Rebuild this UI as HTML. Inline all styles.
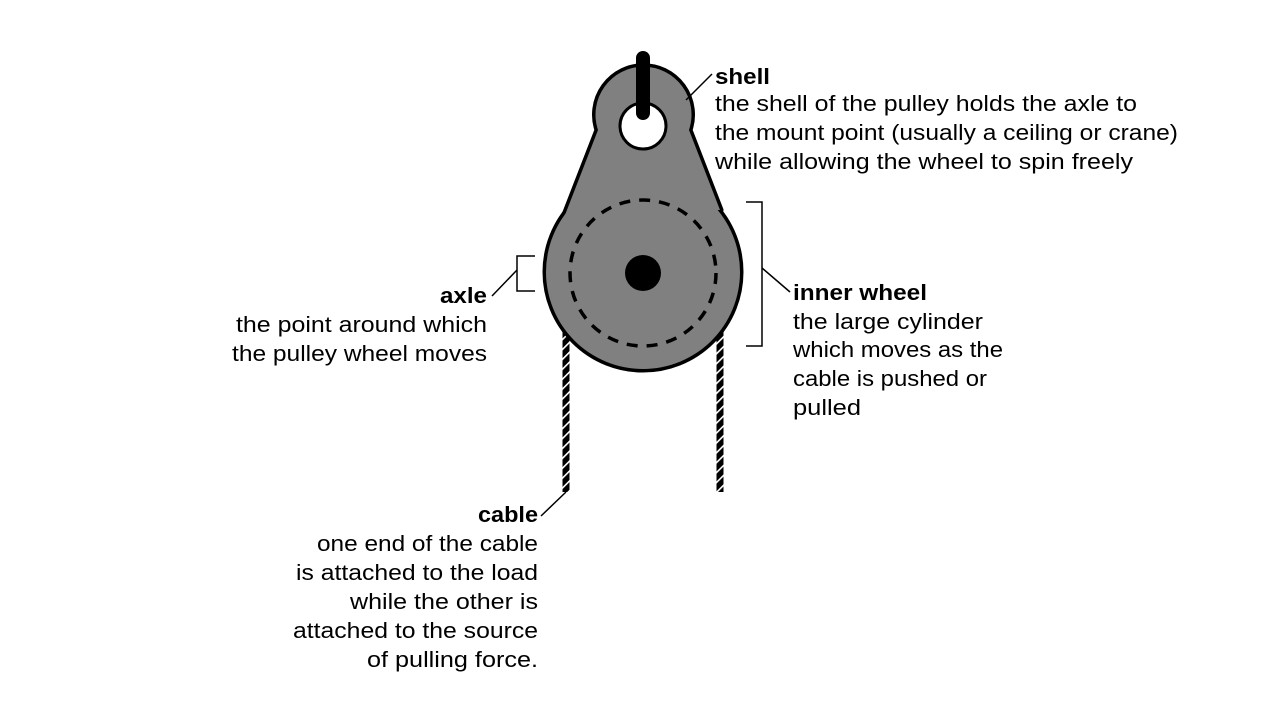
<!DOCTYPE html>
<html><head><meta charset="utf-8"><style>html,body{margin:0;padding:0;background:#fff}svg{display:block}text{font-family:"Liberation Sans",sans-serif;font-size:22px;fill:#000}.b{font-weight:bold}</style></head><body>
<svg width="1280" height="720" viewBox="0 0 1280 720" xmlns="http://www.w3.org/2000/svg">
<defs>
<pattern id="h" width="7" height="7" patternUnits="userSpaceOnUse" patternTransform="rotate(45)">
<rect width="7" height="7" fill="#000"/><rect width="1.6" height="7" fill="#fff"/>
</pattern>
</defs>
<rect x="562.5" y="330" width="7" height="162" fill="url(#h)"/>
<rect x="716.5" y="330" width="7" height="162" fill="url(#h)"/>
<path d="M565,215 L598,130 A48,48 0 1 1 689,130 L720,210 Z" fill="#808080" stroke="#000" stroke-width="7" stroke-linejoin="round"/>
<circle cx="643" cy="272" r="97" fill="#808080" stroke="#000" stroke-width="7"/>
<path d="M565,215 L598,130 A48,48 0 1 1 689,130 L720,210 Z" fill="#808080"/>
<circle cx="643" cy="272" r="97" fill="#808080"/>
<circle cx="643" cy="273" r="73" fill="none" stroke="#000" stroke-width="3.5" stroke-dasharray="11 9"/>
<circle cx="643" cy="273" r="18" fill="#000"/>
<circle cx="643" cy="126" r="23" fill="#fff" stroke="#000" stroke-width="3"/>
<line x1="643" y1="58" x2="643" y2="113" stroke="#000" stroke-width="14" stroke-linecap="round"/>
<g stroke="#000" stroke-width="1.5" fill="none">
<line x1="686" y1="100" x2="712" y2="74"/>
<polyline points="746,202 762,202 762,346 746,346"/>
<line x1="762" y1="268" x2="790" y2="292"/>
<polyline points="535,256 517,256 517,291 535,291"/>
<line x1="517" y1="270" x2="492" y2="296"/>
<line x1="566" y1="492" x2="541" y2="516"/>
</g>
<text class="b" x="715" y="84" textLength="55" lengthAdjust="spacingAndGlyphs">shell</text>
<text x="715" y="111" textLength="422" lengthAdjust="spacingAndGlyphs">the shell of the pulley holds the axle to</text>
<text x="715" y="140" textLength="463" lengthAdjust="spacingAndGlyphs">the mount point (usually a ceiling or crane)</text>
<text x="715" y="169" textLength="418" lengthAdjust="spacingAndGlyphs">while allowing the wheel to spin freely</text>
<text class="b" x="793" y="300" textLength="134" lengthAdjust="spacingAndGlyphs">inner wheel</text>
<text x="793" y="329" textLength="190" lengthAdjust="spacingAndGlyphs">the large cylinder</text>
<text x="793" y="357" textLength="210" lengthAdjust="spacingAndGlyphs">which moves as the</text>
<text x="793" y="386" textLength="194" lengthAdjust="spacingAndGlyphs">cable is pushed or</text>
<text x="793" y="415" textLength="68" lengthAdjust="spacingAndGlyphs">pulled</text>
<text class="b" x="440" y="303" textLength="47" lengthAdjust="spacingAndGlyphs">axle</text>
<text x="236" y="332" textLength="251" lengthAdjust="spacingAndGlyphs">the point around which</text>
<text x="232" y="361" textLength="255" lengthAdjust="spacingAndGlyphs">the pulley wheel moves</text>
<text class="b" x="478" y="522" textLength="60" lengthAdjust="spacingAndGlyphs">cable</text>
<text x="317" y="551" textLength="221" lengthAdjust="spacingAndGlyphs">one end of the cable</text>
<text x="296" y="580" textLength="242" lengthAdjust="spacingAndGlyphs">is attached to the load</text>
<text x="350" y="609" textLength="188" lengthAdjust="spacingAndGlyphs">while the other is</text>
<text x="293" y="638" textLength="245" lengthAdjust="spacingAndGlyphs">attached to the source</text>
<text x="367" y="667" textLength="171" lengthAdjust="spacingAndGlyphs">of pulling force.</text>
</svg>
</body></html>
